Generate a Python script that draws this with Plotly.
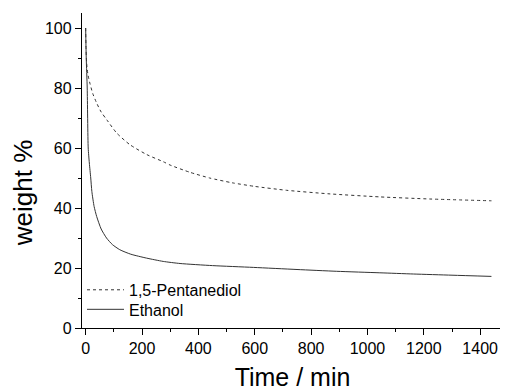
import plotly.graph_objects as go

# Time (min) and weight %
pent_t = [0, 1, 3.5, 8, 15, 25, 39, 55, 75, 110, 157, 217, 276, 300, 370, 440, 520, 600, 713, 867, 1044, 1222, 1440]
pent_w = [100, 94, 88.3, 84.5, 81.6, 78.2, 75, 72, 69.4, 65, 61.1, 57.8, 55.4, 54.3, 51.9, 50.0, 48.4, 47.2, 45.9, 44.7, 43.7, 43.0, 42.4]

eth_t = [0, 2, 5.5, 9, 13, 18, 22, 30, 39, 55, 74, 95, 121, 160, 216, 275, 335, 450, 595, 750, 891, 1044, 1163, 1300, 1440]
eth_w = [100, 90, 80, 60, 55, 50, 45.5, 40.5, 37.2, 33, 30, 27.8, 26.1, 24.6, 23.3, 22.2, 21.5, 20.8, 20.2, 19.5, 18.9, 18.4, 18, 17.6, 17.2]

x_ticks = [0, 200, 400, 600, 800, 1000, 1200, 1400]
y_ticks = [0, 20, 40, 60, 80, 100]

FONT = "Liberation Sans"

fig = go.Figure()
fig.add_trace(go.Scatter(x=pent_t, y=pent_w, mode="lines", name="1,5-Pentanediol", legend="legend",
                         line=dict(color="#333333", width=1, dash="dot", shape="spline", smoothing=0.6)))
fig.add_trace(go.Scatter(x=eth_t, y=eth_w, mode="lines", name="Ethanol", legend="legend2",
                         line=dict(color="#333333", width=1, shape="spline", smoothing=0.6)))

axis_common = dict(showline=True, linecolor="black", linewidth=1.3, ticks="outside",
                   tickcolor="black", tickwidth=1.2, ticklen=6, showgrid=False, zeroline=False,
                   tickfont=dict(family=FONT, size=16, color="black"), mirror=False)

fig.update_xaxes(range=[-13, 1481], tickvals=x_ticks, ticktext=[str(v) for v in x_ticks],
                 minor=dict(ticks="outside", dtick=100, tick0=0, ticklen=3, tickcolor="black", tickwidth=1.2),
                 title=dict(text="Time / min", font=dict(family=FONT, size=25, color="black"), standoff=12),
                 **axis_common)
fig.update_yaxes(range=[0, 105], tickvals=y_ticks, ticktext=[str(v) for v in y_ticks],
                 minor=dict(ticks="outside", dtick=10, tick0=0, ticklen=3, tickcolor="black", tickwidth=1.2),
                 **axis_common)

leg_common = dict(x=0.0, xanchor="left", yanchor="middle", bgcolor="rgba(0,0,0,0)",
                  font=dict(family=FONT, size=16, color="black"), itemwidth=37, borderwidth=0)

# page body has an 8px default margin, so the figure is 8px smaller and shifted
fig.update_layout(width=500, height=384, margin=dict(l=74, r=5, t=5, b=64),
                  plot_bgcolor="white", paper_bgcolor="white",
                  legend=dict(y=0.121, **leg_common),
                  legend2=dict(y=0.059, **leg_common),
                  showlegend=True,
                  annotations=[dict(text="weight %", xref="paper", yref="paper", x=-0.141, y=0.43,
                                    xanchor="center", yanchor="middle", textangle=-90, showarrow=False,
                                    font=dict(family=FONT, size=26, color="black"))])

fig.write_html("out.html")
